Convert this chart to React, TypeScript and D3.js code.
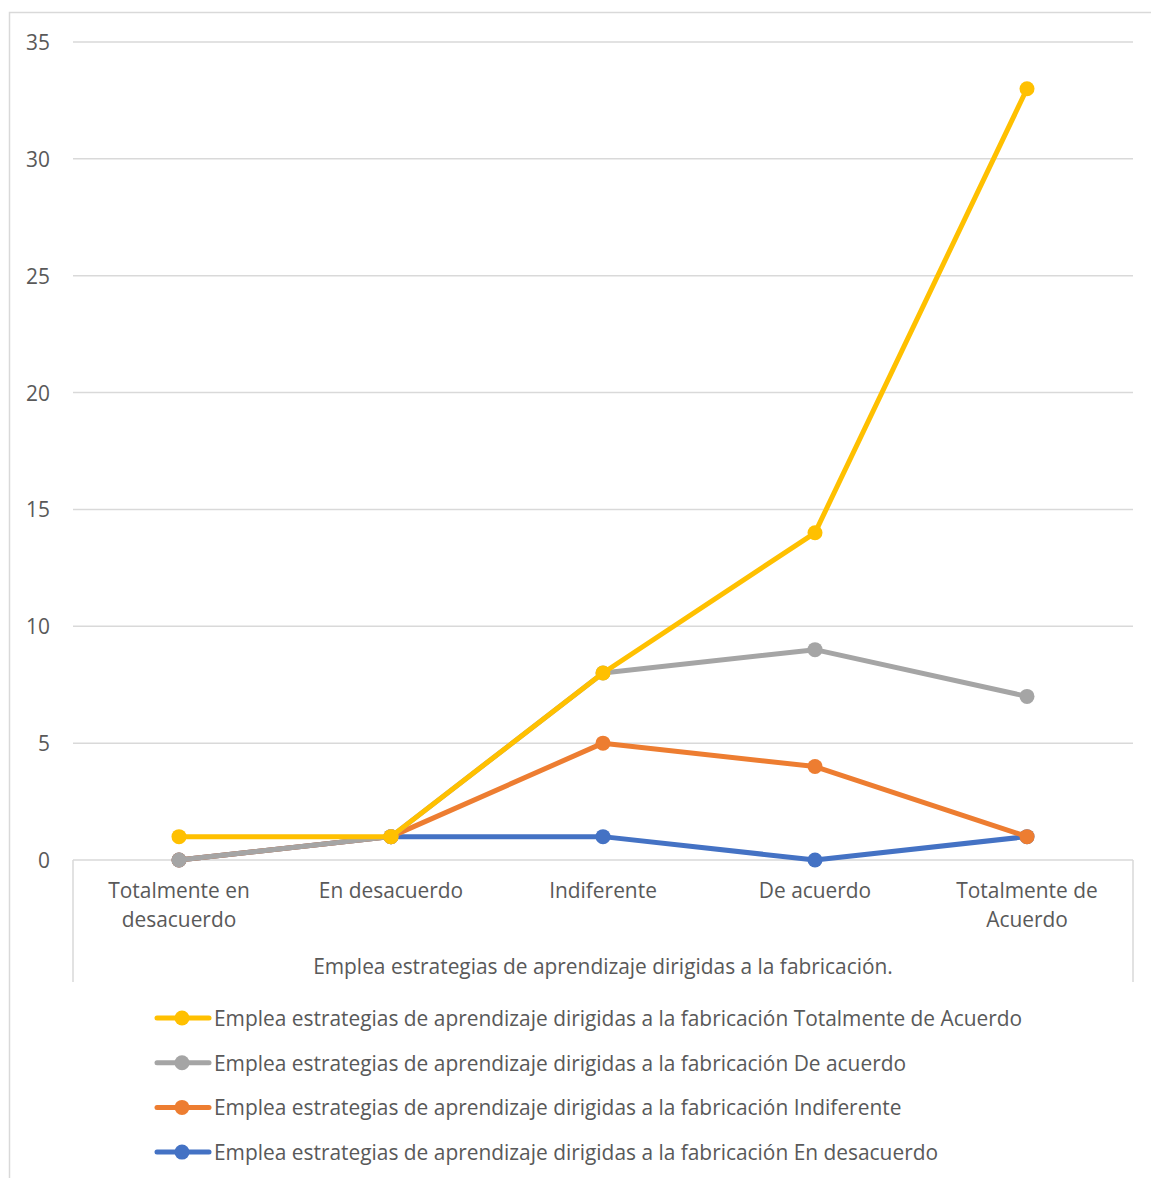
import React from "react";
import * as d3 from "d3";

const categories = [
  ["Totalmente en", "desacuerdo"],
  ["En desacuerdo"],
  ["Indiferente"],
  ["De acuerdo"],
  ["Totalmente de", "Acuerdo"],
];
const categoryKeys = ["TED", "ED", "I", "DA", "TDA"];

const seriesNames = [
  "Emplea estrategias de aprendizaje dirigidas a la fabricación Totalmente de Acuerdo",
  "Emplea estrategias de aprendizaje dirigidas a la fabricación De acuerdo",
  "Emplea estrategias de aprendizaje dirigidas a la fabricación Indiferente",
  "Emplea estrategias de aprendizaje dirigidas a la fabricación En desacuerdo",
];
const totalmenteDeAcuerdo = [1, 1, 8, 14, 33];
const deAcuerdo = [0, 1, 8, 9, 7];
const indiferente = [0, 1, 5, 4, 1];
const enDesacuerdo = [0, 1, 1, 0, 1];
const seriesValues = [totalmenteDeAcuerdo, deAcuerdo, indiferente, enDesacuerdo];
const seriesColors = ["#FFC000", "#A5A5A5", "#ED7D31", "#4472C4"];

const yTicks = [0, 5, 10, 15, 20, 25, 30, 35];
const axisTitle = "Emplea estrategias de aprendizaje dirigidas a la fabricación.";

const W = 1151;
const H = 1178;
const plot = { left: 73, right: 1133, top: 42, bottom: 860 };
const FONT = "'Open Sans', sans-serif";
const TEXT = "#595959";
const FS = 20.9;

export default function App() {
  const x = d3
    .scaleBand<string>()
    .domain(categoryKeys)
    .range([plot.left, plot.right]);
  const y = d3.scaleLinear().domain([0, 35]).range([plot.bottom, plot.top]);
  const cx = (i: number) => (x(categoryKeys[i]) as number) + x.bandwidth() / 2;

  const line = d3
    .line<number>()
    .x((_, i) => cx(i))
    .y((d) => y(d));

  // draw back to front: last series first
  const drawOrder = [3, 2, 1, 0];

  return (
    <svg
      width={W}
      height={H}
      style={{ position: "absolute", left: 0, top: 0, background: "#fff" }}
      fontFamily={FONT}
    >
      <rect x={9.5} y={12.5} width={W + 20} height={H + 20} fill="#fff" stroke="#D9D9D9" strokeWidth={1.5} />

      {/* gridlines */}
      {yTicks.map((t) => (
        <line
          key={t}
          x1={plot.left}
          x2={plot.right}
          y1={y(t)}
          y2={y(t)}
          stroke="#D9D9D9"
          strokeWidth={1.5}
        />
      ))}
      {/* y tick labels */}
      {yTicks.map((t) => (
        <text
          key={"l" + t}
          x={50}
          y={y(t)}
          textAnchor="end"
          dominantBaseline="central"
          fontSize={FS}
          fill={TEXT}
        >
          {t}
        </text>
      ))}

      {/* category axis frame */}
      <line x1={plot.left} x2={plot.left} y1={plot.bottom} y2={982} stroke="#D9D9D9" strokeWidth={1.5} />
      <line x1={plot.right} x2={plot.right} y1={plot.bottom} y2={982} stroke="#D9D9D9" strokeWidth={1.5} />

      {categories.map((lines, i) => (
        <text key={"c" + i} x={cx(i)} y={898} textAnchor="middle" fontSize={FS} fill={TEXT}>
          {lines.map((s, j) => (
            <tspan key={j} x={cx(i)} dy={j === 0 ? 0 : 29}>
              {s}
            </tspan>
          ))}
        </text>
      ))}
      <text x={(plot.left + plot.right) / 2} y={974} textAnchor="middle" fontSize={FS} fill={TEXT}>
        {axisTitle}
      </text>

      {/* series */}
      {drawOrder.map((s) => (
        <g key={"s" + s}>
          <path
            d={line(seriesValues[s]) as string}
            fill="none"
            stroke={seriesColors[s]}
            strokeWidth={5}
            strokeLinejoin="round"
            strokeLinecap="round"
          />
          {seriesValues[s].map((v, i) => (
            <circle key={i} cx={cx(i)} cy={y(v)} r={7.5} fill={seriesColors[s]} />
          ))}
        </g>
      ))}

      {/* legend */}
      {seriesNames.map((name, i) => {
        const ly = 1018 + i * 44.7;
        return (
          <g key={"lg" + i}>
            <line x1={157} x2={209} y1={ly} y2={ly} stroke={seriesColors[i]} strokeWidth={5} strokeLinecap="round" />
            <circle cx={182} cy={ly} r={7.5} fill={seriesColors[i]} />
            <text x={214} y={ly} dominantBaseline="central" fontSize={FS} fill={TEXT}>
              {name}
            </text>
          </g>
        );
      })}
    </svg>
  );
}
